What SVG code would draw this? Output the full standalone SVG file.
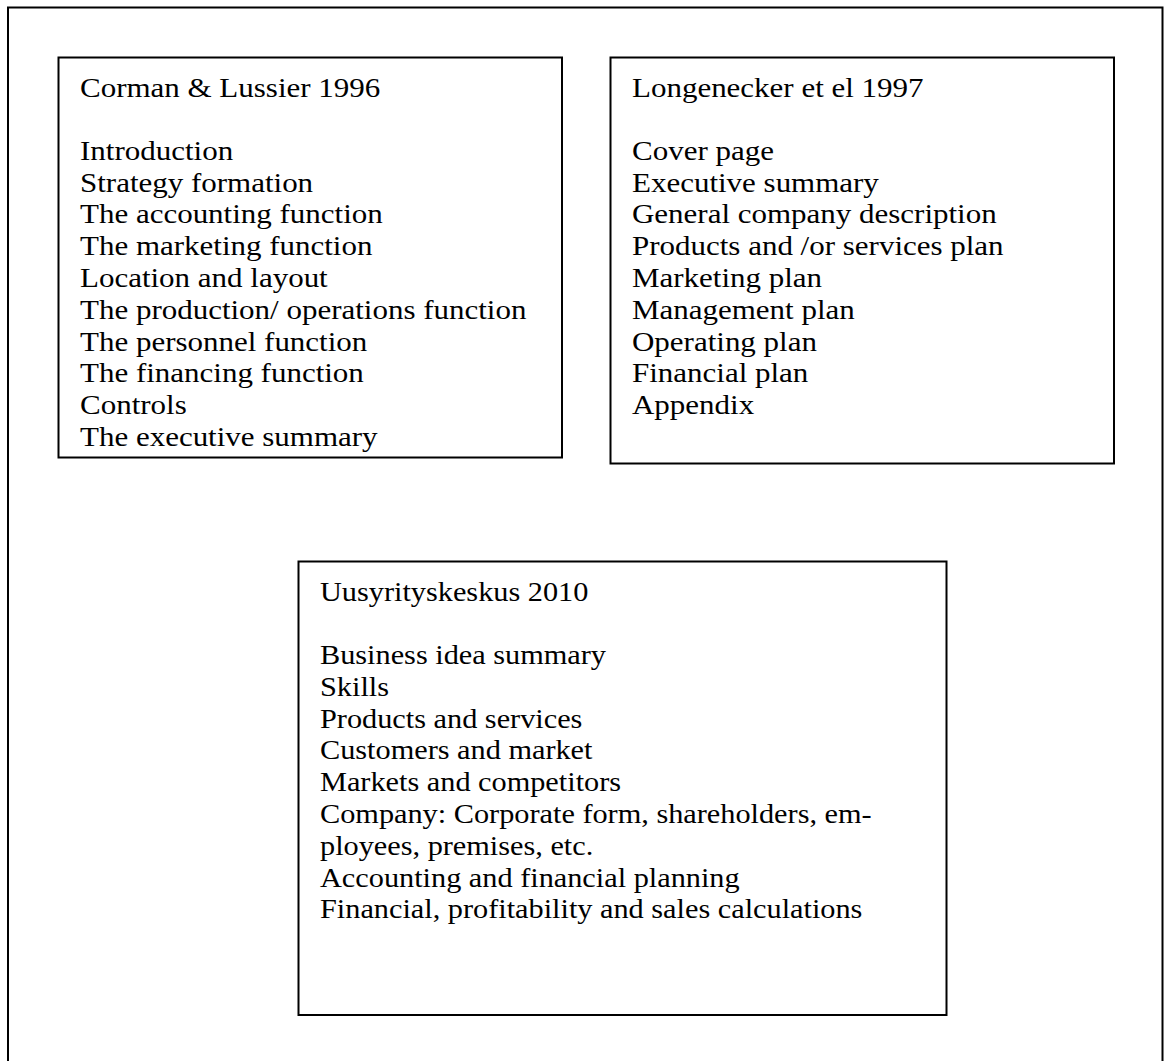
<svg xmlns="http://www.w3.org/2000/svg" width="1167" height="1061" viewBox="0 0 1167 1061">
<style>
.box{fill:#fff;stroke:#000;stroke-width:2}
.t{font-family:"Liberation Serif","Times New Roman",serif;font-size:28px;fill:#000}
</style>
<rect width="1167" height="1061" fill="#fff"/>
<g id="frame"><rect class="box" x="8" y="7.5" width="1154.5" height="1080"/></g>
<g id="node-corman">
<rect class="box" x="58.5" y="57.5" width="503.5" height="400"/>
<g transform="translate(80,0) scale(1.107,1)">
<text class="t" x="0" y="97">Corman &amp; Lussier 1996</text>
<text class="t" x="0" y="160">Introduction</text>
<text class="t" x="0" y="192">Strategy formation</text>
<text class="t" x="0" y="223">The accounting function</text>
<text class="t" x="0" y="255">The marketing function</text>
<text class="t" x="0" y="287">Location and layout</text>
<text class="t" x="0" y="319">The production/ operations function</text>
<text class="t" x="0" y="351">The personnel function</text>
<text class="t" x="0" y="382">The financing function</text>
<text class="t" x="0" y="414">Controls</text>
<text class="t" x="0" y="446">The executive summary</text>
</g>
</g>
<g id="node-longenecker">
<rect class="box" x="610.5" y="57.5" width="503.5" height="406"/>
<g transform="translate(632,0) scale(1.107,1)">
<text class="t" x="0" y="97">Longenecker et el 1997</text>
<text class="t" x="0" y="160">Cover page</text>
<text class="t" x="0" y="192">Executive summary</text>
<text class="t" x="0" y="223">General company description</text>
<text class="t" x="0" y="255">Products and /or services plan</text>
<text class="t" x="0" y="287">Marketing plan</text>
<text class="t" x="0" y="319">Management plan</text>
<text class="t" x="0" y="351">Operating plan</text>
<text class="t" x="0" y="382">Financial plan</text>
<text class="t" x="0" y="414">Appendix</text>
</g>
</g>
<g id="node-uusyrityskeskus">
<rect class="box" x="298.5" y="561.5" width="648" height="453.5"/>
<g transform="translate(320,0) scale(1.082,1)">
<text class="t" x="0" y="601">Uusyrityskeskus 2010</text>
<text class="t" x="0" y="664">Business idea summary</text>
<text class="t" x="0" y="696">Skills</text>
<text class="t" x="0" y="728">Products and services</text>
<text class="t" x="0" y="759">Customers and market</text>
<text class="t" x="0" y="791">Markets and competitors</text>
<text class="t" x="0" y="823">Company: Corporate form, shareholders, em-</text>
<text class="t" x="0" y="855">ployees, premises, etc.</text>
<text class="t" x="0" y="887">Accounting and financial planning</text>
<text class="t" x="0" y="918">Financial, profitability and sales calculations</text>
</g>
</g>
<g id="connectors"></g>
</svg>
